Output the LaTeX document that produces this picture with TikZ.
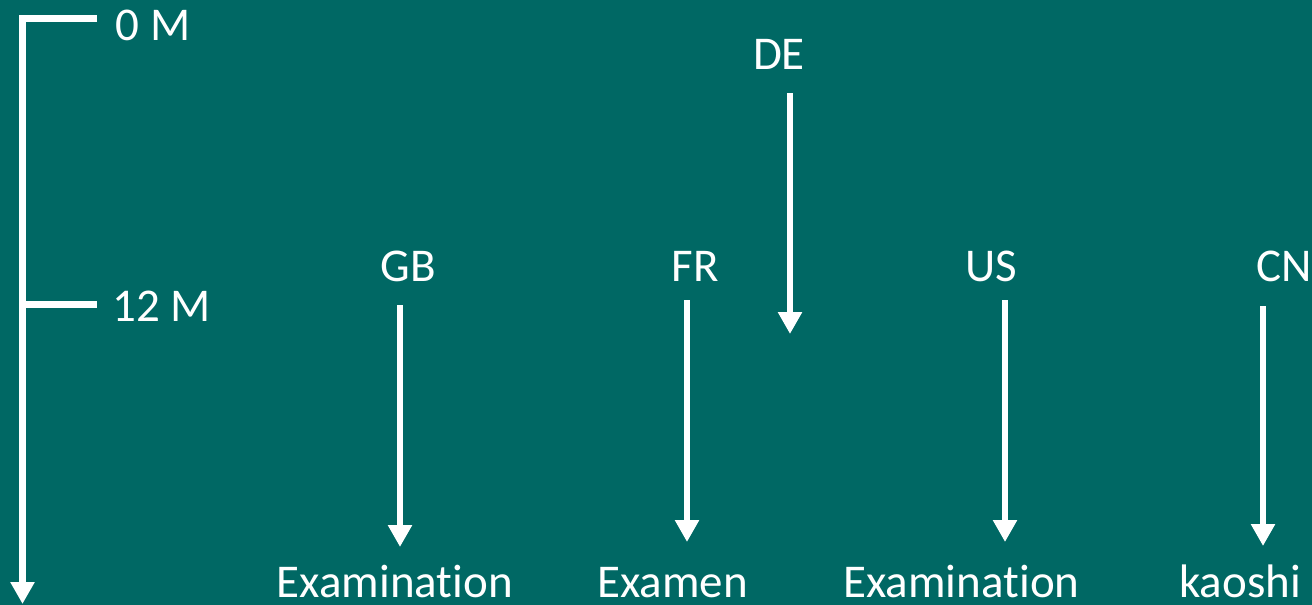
\documentclass[tikz,border=0pt]{standalone}
\usepackage{fontspec}
\setmainfont{Carlito}[RawFeature={-liga;-clig;-dlig}]
\usetikzlibrary{arrows.meta}
\definecolor{bgteal}{RGB}{0,104,100}
\begin{document}
\begin{tikzpicture}[x=1pt,y=-1pt,
  lbl/.style={text=white,font=\fontsize{47}{56}\selectfont,inner sep=0pt,anchor=base},
  arr/.style={draw=white,line width=6.5pt,-{Triangle[length=22pt,width=23pt]}},
  axisline/.style={draw=white,line width=6.5pt}]
\fill[bgteal] (0,0) rectangle (1312,605);
\useasboundingbox (0,0) rectangle (1312,605);
% time axis
\coordinate (ax0) at (97,18.5);
\coordinate (axc) at (22.5,18.5);
\coordinate (axe) at (22.5,604);
\coordinate (t12a) at (22.5,304.5);
\coordinate (t12b) at (97,304.5);
\draw[arr] (ax0) -- (axc) -- (axe);
\draw[axisline] (t12a) -- (t12b);
\node[lbl] (m0) at (153,40) {0 M};
\node[lbl] (m12) at (161.5,321) {12 M};
% countries
\node[lbl] (de) at (779,69) {DE};
\node[lbl] (gb) at (408.5,281) {GB};
\node[lbl] (fr) at (695.5,281) {FR};
\node[lbl] (us) at (991.5,281) {US};
\node[lbl,anchor=base west] (cn) at (1256,281) {CN};
% exams
\node[lbl] (e1) at (395,597) {Examination};
\node[lbl] (e2) at (672.5,597) {Examen};
\node[lbl] (e3) at (961.5,597) {Examination};
\node[lbl] (e4) at (1240,597) {kaoshi};
% arrows
\coordinate (deS) at (790,93);   \coordinate (deE) at (790,334);
\coordinate (gbS) at (400,305);  \coordinate (gbE) at (400,547);
\coordinate (frS) at (687,300);  \coordinate (frE) at (687,542);
\coordinate (usS) at (1005,300); \coordinate (usE) at (1005,542);
\coordinate (cnS) at (1263,306); \coordinate (cnE) at (1263,546);
\draw[arr] (deS) -- (deE);
\draw[arr] (gbS) -- (gbE);
\draw[arr] (frS) -- (frE);
\draw[arr] (usS) -- (usE);
\draw[arr] (cnS) -- (cnE);
\end{tikzpicture}
\end{document}
